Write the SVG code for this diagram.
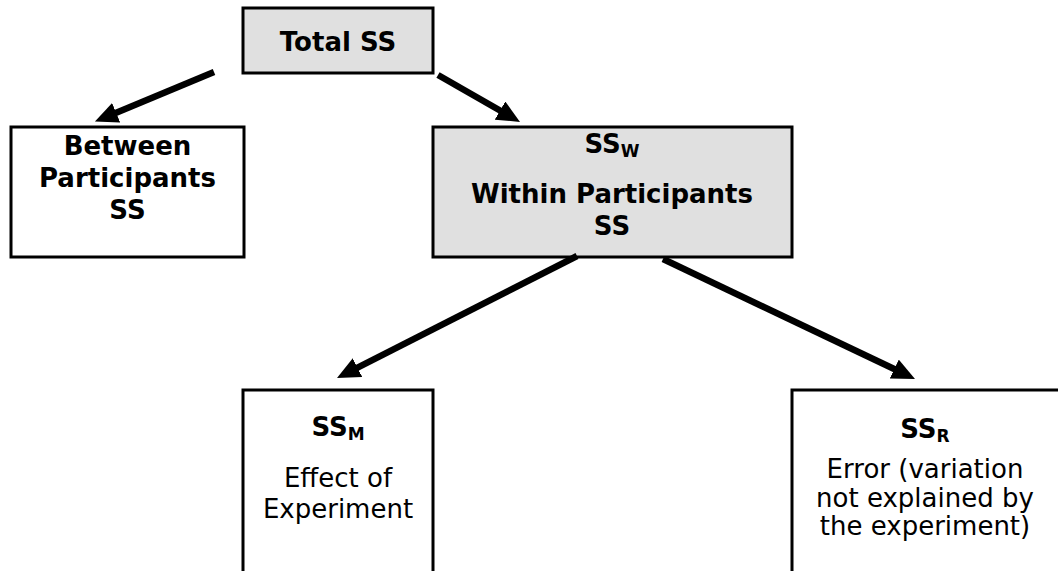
<svg xmlns="http://www.w3.org/2000/svg" width="1058" height="571" viewBox="0 0 1058 571">
<style>
.box{stroke:#000;stroke-width:3;}
.gray{fill:#e0e0e0;}
.white{fill:#fff;}
text{font-family:Verdana,"DejaVu Sans",sans-serif;font-size:26px;fill:#000;text-anchor:middle;}
.b{font-weight:bold;}
.sub{font-size:17px;font-weight:bold;}
.conn{stroke:#000;stroke-width:6.5;fill:none;marker-end:url(#ah);}
</style>
<defs>
<marker id="ah" markerUnits="userSpaceOnUse" viewBox="0 0 23 21" markerWidth="23" markerHeight="21" refX="11" refY="10.5" orient="auto">
<path d="M0,0 L23,10.5 L0,21 z" fill="#000"/>
</marker>
</defs>
<rect width="1058" height="571" fill="#fff"/>
<g id="total">
<rect class="box gray" x="243" y="8" width="190" height="65"/>
<text class="b" x="338" y="51">Total SS</text>
</g>
<g id="between">
<rect class="box white" x="11" y="127" width="233" height="130"/>
<text class="b" x="127.5" y="155">Between</text>
<text class="b" x="127.5" y="187">Participants</text>
<text class="b" x="127.5" y="219">SS</text>
</g>
<g id="within">
<rect class="box gray" x="433" y="127" width="359" height="130"/>
<text class="b" x="612" y="153">SS<tspan class="sub" dy="4">W</tspan></text>
<text class="b" x="612" y="203">Within Participants</text>
<text class="b" x="612" y="235">SS</text>
</g>
<g id="model">
<rect class="box white" x="243" y="390" width="190" height="200"/>
<text class="b" x="338" y="436">SS<tspan class="sub" dy="4">M</tspan></text>
<text x="338" y="487">Effect of</text>
<text x="338" y="518">Experiment</text>
</g>
<g id="residual">
<rect class="box white" x="792" y="390" width="300" height="200"/>
<text class="b" x="925" y="438">SS<tspan class="sub" dy="4">R</tspan></text>
<text x="925" y="478">Error (variation</text>
<text x="925" y="507">not explained by</text>
<text x="925" y="535">the experiment)</text>
</g>
<g id="connectors">
<line class="conn" x1="214" y1="72" x2="106" y2="117"/>
<line class="conn" x1="438" y1="75" x2="509.6" y2="116"/>
<line class="conn" x1="577" y1="256" x2="347.7" y2="372.6"/>
<line class="conn" x1="663" y1="259" x2="904.2" y2="373.8"/>
</g>
</svg>
